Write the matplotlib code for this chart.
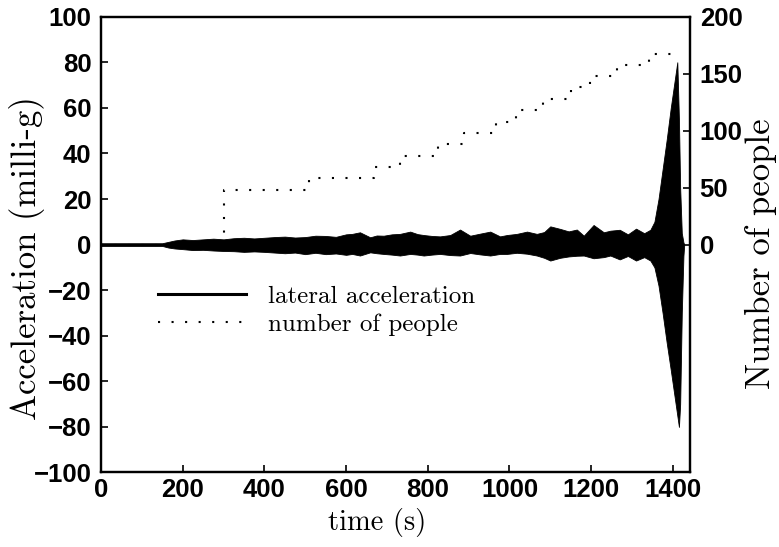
import matplotlib
matplotlib.use("Agg")
import matplotlib.pyplot as plt
from matplotlib.lines import Line2D

# envelope of the lateral acceleration trace (milli-g)
acc_t = [0, 150, 165, 180, 200, 225, 250, 275, 300, 325, 350, 375, 400, 425,
         450, 475, 500, 525, 550, 575, 600, 615, 634, 659, 675, 692, 712, 732,
         757, 775, 790, 810, 830, 855, 879, 904, 928, 953, 977, 994, 1018, 1043,
         1067, 1085, 1100, 1124, 1145, 1165, 1182, 1206, 1231, 1247, 1270, 1290,
         1310, 1330, 1345, 1355, 1365, 1375, 1385, 1395, 1403, 1411, 1415, 1418,
         1422, 1426, 1428]
acc_hi = [0.6, 0.6, 1.2, 1.8, 2.3, 2.0, 2.3, 2.6, 2.3, 2.8, 3.0, 2.7, 3.0, 3.3,
          3.5, 3.1, 3.3, 3.9, 3.8, 3.4, 4.5, 4.7, 5.4, 3.2, 4.0, 3.9, 4.5, 4.7,
          5.7, 4.6, 4.2, 3.8, 3.6, 4.2, 6.6, 3.9, 4.8, 5.7, 3.6, 4.2, 4.7, 5.7,
          4.7, 5.5, 8.0, 6.9, 5.8, 6.6, 3.9, 8.6, 5.4, 6.1, 6.5, 4.5,
          7.0, 5.0, 6.5, 10, 20, 33, 46, 60, 70, 80, 55, 25,
          5, 1, 0]
acc_lo = [-0.6, -0.6, -1.3, -1.7, -2.0, -2.4, -2.3, -2.6, -2.8, -2.9, -3.2, -3.0, -3.2, -3.5,
          -3.8, -3.5, -4.2, -3.6, -4.2, -3.9, -4.5, -4.1, -4.8, -3.4, -3.8, -4.1, -4.4, -4.8,
          -4.1, -4.4, -4.8, -4.4, -4.1, -4.6, -4.8, -3.7, -4.3, -4.8, -4.1, -4.1, -3.6, -4.0,
          -4.8, -5.8, -7.0, -5.8, -5.2, -4.9, -4.8, -6.0, -5.5, -4.8, -6.5, -5.0,
          -7.0, -5.5, -7.0, -10, -18, -30, -43, -55, -65, -75, -80, -70,
          -30, -5, 0]

# number of people on the bridge
step_t = [0, 300, 510, 668, 731, 825, 888, 968, 1016, 1083, 1151, 1197, 1264, 1341, 1412]
people = [0, 48, 58, 68, 78, 88, 98, 108, 118, 128, 138, 148, 158, 167, 167]

xticks = [0, 200, 400, 600, 800, 1000, 1200, 1400]
yticks = [-100, -80, -60, -40, -20, 0, 20, 40, 60, 80, 100]
pticks = [0, 50, 100, 150, 200]

tickfont = {"family": "Liberation Sans", "weight": "bold", "size": 18.5}

fig = plt.figure(figsize=(7.79, 5.47), dpi=100)
ax = fig.add_axes([0.1297, 0.1362, 0.7560, 0.8333])
ax.fill_between(acc_t, acc_lo, acc_hi, color="black", lw=0.6)
ax.set_xlim(0, 1442)
ax.set_ylim(-100, 100)
ax.set_xticks(xticks)
ax.set_yticks(yticks)
ax.set_xticklabels([str(v) for v in xticks], fontdict=tickfont)
ax.set_yticklabels([str(v).replace("-", "\u2212") for v in yticks], fontdict=tickfont)
ax.tick_params(axis="y", direction="in", length=5, width=1.2, right=False, pad=7)
ax.tick_params(axis="x", direction="in", length=5, width=1.2, top=False, pad=4)
ax.set_xlabel("time (s)", family="cmr10", size=20.5)
ax.xaxis.set_label_coords(0.469, -0.078)
ax.set_ylabel("Acceleration (milli-g)", family="cmr10", size=25)
ax.yaxis.set_label_coords(-0.095, 0.47)
for s in ax.spines.values():
    s.set_linewidth(1.6)

ax2 = ax.twinx()
ax2.plot(step_t, people, color="black", lw=1.5, linestyle=(0, (1, 5.5)),
         drawstyle="steps-post")
ax2.set_ylim(-200, 200)
ax2.set_yticks(pticks)
ax2.set_yticklabels([str(v) for v in pticks], fontdict=tickfont)
ax2.tick_params(direction="in", length=5, width=1.2, pad=7)
ax2.set_ylabel("Number of people", family="cmr10", size=25)
ax2.yaxis.set_label_coords(1.093, 0.48)
for s in ax2.spines.values():
    s.set_linewidth(1.6)

handles = [Line2D([], [], color="black", lw=2.2),
           Line2D([], [], color="black", lw=1.5, linestyle=(0, (1, 5.5)))]
ax2.legend(handles, ["lateral acceleration", "number of people"],
           loc="center left", bbox_to_anchor=(0.097, 0.355), frameon=False,
           prop={"family": "cmr10", "size": 18}, handlelength=3.5,
           handletextpad=0.9, borderpad=0, borderaxespad=0, labelspacing=0.2)

fig.savefig("out.png", dpi=100)
